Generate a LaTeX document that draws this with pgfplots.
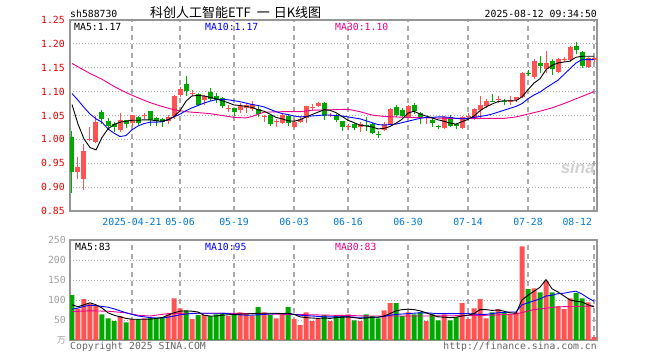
\documentclass[border=0pt]{standalone}
\usepackage{fontspec}
\usepackage{pgfplots}
\usepackage{pgfplotstable}
\pgfplotsset{compat=1.18}
\setmonofont{DejaVu Sans Mono}
\setsansfont{Liberation Sans}
\newfontfamily\cjk{Noto Sans CJK SC}
\newcommand\mono{\ttfamily\fontsize{9.8}{10}\selectfont}
\definecolor{kred}{RGB}{255,82,82}
\definecolor{kgreen}{RGB}{0,168,0}
\definecolor{tickred}{RGB}{235,0,0}
\definecolor{dateblue}{RGB}{0,120,210}
\definecolor{gridgray}{RGB}{170,170,170}
\definecolor{framegray}{RGB}{150,150,150}
\definecolor{volgray}{RGB}{160,160,160}
\definecolor{copygray}{RGB}{100,100,100}

\pgfplotstableread{
i o h l c
1 0.932 0.964 0.916 0.942
2 0.918 0.990 0.895 0.976
3 0.999 1.025 0.996 1.001
4 0.995 1.050 0.992 1.037
8 1.020 1.055 1.016 1.040
10 1.035 1.052 1.025 1.051
12 1.048 1.056 1.042 1.051
16 1.038 1.051 1.032 1.047
17 1.048 1.092 1.042 1.091
18 1.093 1.109 1.089 1.105
20 1.096 1.103 1.090 1.098
22 1.083 1.092 1.071 1.091
26 1.063 1.071 1.057 1.065
28 1.062 1.076 1.056 1.069
29 1.065 1.077 1.056 1.072
30 1.063 1.080 1.060 1.074
32 1.048 1.051 1.037 1.050
34 1.036 1.042 1.025 1.038
35 1.034 1.056 1.032 1.051
37 1.025 1.042 1.024 1.037
38 1.037 1.048 1.034 1.042
39 1.044 1.069 1.035 1.069
40 1.066 1.074 1.060 1.068
41 1.069 1.079 1.067 1.076
43 1.050 1.056 1.047 1.052
46 1.026 1.033 1.019 1.028
48 1.025 1.037 1.016 1.033
52 1.020 1.037 1.018 1.033
53 1.033 1.065 1.032 1.063
56 1.046 1.072 1.044 1.070
59 1.044 1.047 1.033 1.046
62 1.024 1.049 1.021 1.047
65 1.024 1.049 1.021 1.047
66 1.048 1.056 1.044 1.050
67 1.043 1.066 1.041 1.064
68 1.061 1.091 1.044 1.071
69 1.069 1.084 1.065 1.080
71 1.083 1.091 1.077 1.085
73 1.079 1.090 1.072 1.083
74 1.083 1.089 1.078 1.088
75 1.088 1.141 1.087 1.140
77 1.131 1.168 1.127 1.164
79 1.147 1.185 1.140 1.161
81 1.142 1.170 1.138 1.168
82 1.166 1.172 1.163 1.168
83 1.166 1.195 1.163 1.193
86 1.152 1.172 1.150 1.170
87 1.166 1.172 1.162 1.171
}\redK

\pgfplotstableread{
i o h l c
0 1.004 1.018 0.888 0.932
5 1.057 1.062 1.032 1.042
6 1.038 1.044 1.020 1.028
7 1.032 1.037 1.015 1.025
9 1.040 1.041 1.023 1.032
11 1.047 1.048 1.031 1.035
13 1.059 1.060 1.028 1.040
14 1.044 1.046 1.028 1.038
15 1.042 1.045 1.026 1.036
19 1.117 1.133 1.091 1.101
21 1.096 1.098 1.069 1.072
23 1.099 1.107 1.080 1.085
24 1.090 1.098 1.076 1.083
25 1.087 1.089 1.065 1.069
27 1.065 1.066 1.049 1.058
31 1.063 1.069 1.047 1.054
33 1.051 1.051 1.028 1.032
36 1.049 1.053 1.027 1.034
42 1.076 1.079 1.040 1.048
44 1.049 1.054 1.037 1.040
45 1.039 1.039 1.018 1.026
47 1.033 1.035 1.019 1.023
49 1.031 1.046 1.018 1.029
50 1.033 1.035 1.011 1.014
51 1.012 1.018 1.003 1.010
54 1.068 1.072 1.046 1.051
55 1.061 1.065 1.046 1.049
57 1.072 1.077 1.054 1.060
58 1.056 1.057 1.033 1.046
60 1.040 1.046 1.025 1.035
61 1.028 1.031 1.022 1.026
63 1.047 1.051 1.026 1.028
64 1.033 1.035 1.021 1.028
70 1.081 1.096 1.078 1.079
72 1.081 1.084 1.072 1.079
76 1.140 1.145 1.132 1.138
78 1.161 1.175 1.138 1.154
80 1.165 1.168 1.135 1.147
84 1.196 1.203 1.178 1.187
85 1.183 1.185 1.149 1.154
}\greenK

\pgfplotstableread{
i v
1 78
2 102
3 91
4 85
8 60
10 52
12 54
16 64
17 104
18 79
20 52
22 62
26 60
28 69
29 67
30 60
32 69
34 54
35 64
37 52
38 37
39 69
40 47
41 52
43 47
46 64
48 47
52 74
53 92
56 69
59 47
62 64
65 92
66 52
67 79
68 102
69 54
71 77
73 64
74 69
75 234
77 129
79 148
81 84
82 77
83 104
86 94
87 7
}\redV

\pgfplotstableread{
i v
0 112
5 64
6 54
7 47
9 44
11 52
13 56
14 56
15 57
19 72
21 62
23 60
24 64
25 68
27 64
31 82
33 62
36 82
42 62
44 62
45 62
47 49
49 64
50 60
51 54
54 92
55 60
57 64
58 69
60 64
61 49
63 49
64 57
70 69
72 69
76 127
78 119
80 119
84 117
85 104
}\greenV

\pgfplotsset{
  kbody/.style={draw=none, mark=none, forget plot,
    error bars/.cd, y dir=plus, y explicit, error mark=none,
    error bar style={line width=5pt, draw=#1, solid}},
  kwick/.style={draw=none, mark=none, forget plot,
    error bars/.cd, y dir=plus, y explicit, error mark=none,
    error bar style={line width=1pt, draw=#1, solid}},
  panel/.style={scale only axis, anchor=south west, width=527pt,
    xmin=-0.333, xmax=87.5,
    axis line style={draw=framegray, line width=1.2pt},
    major tick length=0pt, tick style={draw=none},
    xtick={10,18,27,37,46,56,66,76,87},
    xmajorgrids, ymajorgrids,
    x grid style={dash pattern=on 5pt off 4pt, line width=1.4pt, color=gridgray},
    y grid style={dash pattern=on 1pt off 2pt, line width=1pt, color=gridgray},
    tick label style={font=\mono},
  },
}

\begin{document}
\begin{tikzpicture}[x=1pt,y=1pt]
\useasboundingbox (0,0) rectangle (660,360);

% ---------- price panel ----------
\begin{axis}[panel, at={(70pt,149pt)}, height=191pt,
  ymin=0.85, ymax=1.25,
  ytick={0.85,0.9,0.95,1,1.05,1.1,1.15,1.2,1.25},
  yticklabels={0.85,0.90,0.95,1.00,1.05,1.10,1.15,1.20,1.25},
  xticklabels={2025-04-21,05-06,05-19,06-03,06-16,06-30,07-14,07-28,{\makebox[0pt][r]{08-12\kern2pt}}},
  yticklabel style={text=tickred, inner sep=0pt, xshift=-5pt},
  xticklabel style={text=dateblue, inner sep=0pt, yshift=-7pt},
]
\addplot[kwick=kred] table[x=i, y=l, y error plus expr=\thisrow{h}-\thisrow{l}] {\redK};
\addplot[kbody=kred] table[x=i, y=o, y error plus expr=\thisrow{c}-\thisrow{o}] {\redK};
\addplot[kwick=kgreen] table[x=i, y=l, y error plus expr=\thisrow{h}-\thisrow{l}] {\greenK};
\addplot[kbody=kgreen] table[x=i, y=c, y error plus expr=\thisrow{o}-\thisrow{c}] {\greenK};

% MA30
\addplot[magenta, line width=0.9pt] coordinates {
(0,1.159)(3,1.138)(5,1.126)(7,1.111)(9,1.098)(11,1.087)(13,1.077)(15,1.069)(17,1.062)(19,1.058)(21,1.056)(23,1.054)(25,1.050)(27,1.046)(29,1.045)(30,1.048)(32,1.057)(35,1.058)(38,1.058)(40,1.061)(46,1.063)(48,1.058)(50,1.051)(52,1.048)(56,1.046)(60,1.045)(63,1.044)(68,1.044)(72,1.044)(74,1.047)(76,1.053)(78,1.059)(80,1.066)(82,1.075)(84,1.085)(86,1.095)(87,1.100)};
% MA10
\addplot[blue, line width=0.9pt] coordinates {
(0,1.096)(1,1.082)(2,1.067)(3,1.053)(4,1.043)(5,1.036)(6,1.022)(7,1.013)(8,1.006)(9,1.008)(10,1.020)(11,1.028)(12,1.033)(13,1.036)(14,1.036)(15,1.037)(16,1.041)(17,1.047)(18,1.053)(19,1.060)(20,1.066)(21,1.071)(22,1.076)(23,1.080)(24,1.083)(25,1.084)(26,1.083)(27,1.081)(28,1.079)(29,1.076)(30,1.073)(31,1.071)(32,1.068)(33,1.063)(34,1.058)(35,1.054)(36,1.052)(37,1.049)(38,1.047)(39,1.048)(40,1.049)(41,1.050)(42,1.051)(43,1.051)(44,1.050)(45,1.049)(46,1.047)(47,1.045)(48,1.043)(49,1.039)(50,1.035)(51,1.031)(52,1.030)(53,1.031)(54,1.032)(55,1.035)(56,1.038)(57,1.041)(58,1.044)(59,1.046)(60,1.046)(61,1.047)(62,1.047)(63,1.046)(64,1.044)(65,1.043)(66,1.044)(67,1.046)(68,1.048)(69,1.050)(70,1.053)(71,1.057)(72,1.061)(73,1.065)(74,1.069)(75,1.075)(76,1.085)(77,1.093)(78,1.099)(79,1.108)(80,1.116)(81,1.124)(82,1.136)(83,1.148)(84,1.160)(85,1.167)(86,1.167)(87,1.167)};
% MA5
\addplot[black, line width=0.9pt] coordinates {
(0,1.073)(1,1.032)(2,1.001)(3,0.983)(4,0.978)(5,1.004)(6,1.022)(7,1.031)(8,1.036)(9,1.038)(10,1.040)(11,1.040)(12,1.041)(13,1.041)(14,1.039)(15,1.038)(16,1.041)(17,1.048)(18,1.060)(19,1.080)(20,1.091)(21,1.092)(22,1.091)(23,1.088)(24,1.085)(25,1.081)(26,1.077)(27,1.072)(28,1.071)(29,1.069)(30,1.067)(31,1.062)(32,1.059)(33,1.053)(34,1.046)(35,1.043)(36,1.039)(37,1.038)(38,1.041)(39,1.047)(40,1.052)(41,1.057)(42,1.062)(43,1.061)(44,1.056)(45,1.048)(46,1.040)(47,1.035)(48,1.030)(49,1.028)(50,1.026)(51,1.022)(52,1.023)(53,1.027)(54,1.034)(55,1.042)(56,1.055)(57,1.059)(58,1.053)(59,1.049)(60,1.045)(61,1.041)(62,1.038)(63,1.034)(64,1.032)(65,1.037)(66,1.042)(67,1.049)(68,1.060)(69,1.068)(70,1.074)(71,1.079)(72,1.081)(73,1.081)(74,1.081)(75,1.089)(76,1.104)(77,1.118)(78,1.127)(79,1.146)(80,1.155)(81,1.160)(82,1.162)(83,1.164)(84,1.172)(85,1.174)(86,1.174)(87,1.174)};
\end{axis}

% ---------- volume panel ----------
\begin{axis}[panel, at={(70pt,20pt)}, height=100pt,
  ymin=0, ymax=250,
  ytick={0,50,100,150,200,250},
  yticklabels={{\cjk\fontsize{9}{9}\selectfont 万},50,100,150,200,250},
  xticklabels={},
  yticklabel style={text=volgray, inner sep=0pt, xshift=-4pt},
]
\addplot[ybar, bar width=5pt, bar shift=0pt, fill=kred, draw=none, forget plot] table[x=i, y=v] {\redV};
\addplot[ybar, bar width=5pt, bar shift=0pt, fill=kgreen, draw=none, forget plot] table[x=i, y=v] {\greenV};
\addplot[magenta, line width=0.9pt] coordinates {
(0,71)(3,73)(6,72)(9,68)(11,62)(13,60)(16,66)(19,67)(25,67)(30,66)(36,64)(40,63)(43,62)(50,60)(60,60)(70,62)(74,65)(77,76)(81,83)(87,85)};
\addplot[blue, line width=0.9pt] coordinates {
(0,77)(1,80)(2,84)(3,87)(4,86)(5,84)(6,82)(7,78)(8,73)(9,68)(10,64)(11,60)(12,58)(13,56)(14,55)(15,55)(16,57)(17,60)(18,63)(19,65)(20,66)(21,67)(22,67)(23,67)(24,67)(25,67)(26,66)(27,64)(28,63)(29,62)(30,62)(31,63)(32,64)(33,65)(34,66)(35,66)(36,66)(37,64)(38,62)(39,61)(40,60)(41,59)(42,58)(43,58)(44,58)(45,58)(46,58)(47,57)(48,57)(49,57)(50,57)(51,57)(52,59)(53,62)(54,64)(55,65)(56,66)(57,67)(58,68)(59,68)(60,67)(61,66)(62,66)(63,66)(64,66)(65,66)(66,66)(67,65)(68,64)(69,64)(70,66)(71,68)(72,69)(73,70)(74,70)(75,88)(76,93)(77,98)(78,103)(79,110)(80,112)(81,116)(82,117)(83,120)(84,122)(85,115)(86,105)(87,97)};
\addplot[black, line width=0.9pt] coordinates {
(0,88)(1,83)(2,88)(3,93)(4,88)(5,80)(6,68)(7,62)(8,58)(9,54)(10,52)(11,52)(12,52)(13,52)(14,54)(15,56)(16,62)(17,68)(18,72)(19,73)(20,72)(21,70)(22,62)(23,60)(24,60)(25,62)(26,63)(27,64)(28,65)(29,65)(30,66)(31,67)(32,67)(33,67)(34,67)(35,66)(36,67)(37,64)(38,58)(39,56)(40,55)(41,54)(42,55)(43,54)(44,56)(45,57)(46,58)(47,56)(48,54)(49,55)(50,57)(51,57)(52,60)(53,66)(54,73)(55,76)(56,77)(57,76)(58,73)(59,68)(60,63)(61,58)(62,57)(63,56)(64,57)(65,60)(66,62)(67,66)(68,76)(69,76)(70,74)(71,75)(72,72)(73,68)(74,67)(75,100)(76,112)(77,122)(78,132)(79,151)(80,128)(81,120)(82,110)(83,100)(84,97)(85,95)(86,88)(87,83)};
\end{axis}

% ---------- texts ----------
\node[anchor=base west, inner sep=0pt] at (70,343) {\mono sh588730};
\node[anchor=base west, inner sep=0pt] at (150,343) {\cjk\fontsize{13}{13}\selectfont 科创人工智能ETF\hspace{6pt}一\hspace{4pt}日K线图};
\node[anchor=base east, inner sep=0pt] at (597,343) {\mono 2025-08-12 09:34:50};

\node[anchor=base west, inner sep=0pt] at (74,330) {\mono MA5:1.17};
\node[anchor=base west, inner sep=0pt, text=blue] at (205,330) {\mono MA10:1.17};
\node[anchor=base west, inner sep=0pt, text=magenta] at (335,330) {\mono MA30:1.10};

\node[anchor=base west, inner sep=0pt] at (75,110) {\mono MA5:83};
\node[anchor=base west, inner sep=0pt, text=blue] at (205,110) {\mono MA10:95};
\node[anchor=base west, inner sep=0pt, text=magenta] at (335,110) {\mono MA30:83};

\node[anchor=base west, inner sep=0pt, text=copygray] at (70,11) {\mono Copyright 2025 SINA.COM};
\node[anchor=base east, inner sep=0pt, text=copygray] at (597,11) {\mono http://finance.sina.com.cn};

\node[anchor=base east, inner sep=0pt, text=gray!35] at (595,187) {\sffamily\bfseries\itshape\fontsize{17}{17}\selectfont sina};
\end{tikzpicture}
\end{document}
